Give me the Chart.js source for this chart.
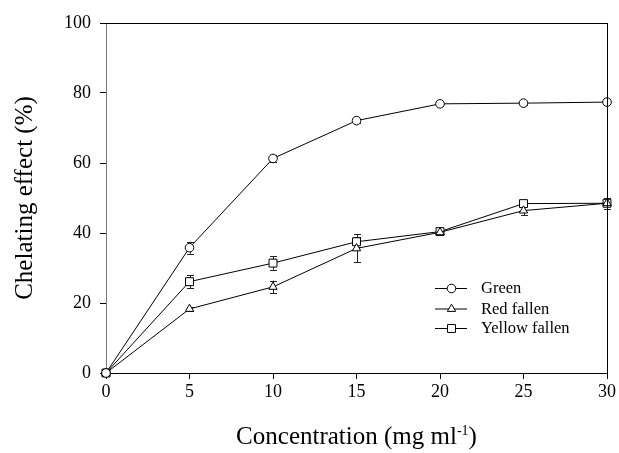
<!DOCTYPE html>
<html>
<head>
<meta charset="utf-8">
<script src="https://cdn.jsdelivr.net/npm/chart.js@4/dist/chart.umd.min.js"></script>
<style>
html,body{margin:0;padding:0;background:#fff;}
#wrap{width:619px;height:453px;position:relative;}
</style>
</head>
<body>
<div id="wrap"><canvas id="c" width="619" height="453"></canvas></div>
<script>
const concentrations = [0, 5, 10, 15, 20, 25, 30];
const green = [0, 35.8, 61.3, 72.1, 76.9, 77.1, 77.4];
const redFallen = [0, 18.3, 24.6, 35.6, 40.2, 46.4, 48.5];
const yellowFallen = [0, 26.1, 31.4, 37.5, 40.4, 48.4, 48.5];
const greenErr = [0, 1.7, 1.1, 0.6, 0.5, 0.5, 0.6];
const redErr = [0, 0.7, 1.8, 4.0, 0.5, 1.3, 1.5];
const yellowErr = [0, 1.9, 1.9, 1.4, 0.6, 0.8, 1.5];
const seriesLabels = ['Green', 'Red fallen', 'Yellow fallen'];
const xTicks = [0, 5, 10, 15, 20, 25, 30];
const yTicks = [0, 20, 40, 60, 80, 100];
const yTitle = 'Chelating effect (%)';
const xTitleMain = 'Concentration (mg ml';
const xTitleSup = '-1';
const xTitleEnd = ')';

const FONT = '"Liberation Serif", "Times New Roman", serif';

function pts(vals) { return concentrations.map((x, i) => ({x: x, y: vals[i]})); }

const errs = [greenErr, redErr, yellowErr];
const styles = ['circle', 'triangle', 'rect'];
const radii = [4.3, 4.8, 5.6];

const errorBars = {
  id: 'errorBars',
  beforeDatasetsDraw(chart) {
    const ctx = chart.ctx, xs = chart.scales.x, ys = chart.scales.y;
    ctx.save();
    ctx.strokeStyle = '#222';
    ctx.lineWidth = 1;
    chart.data.datasets.forEach((ds, di) => {
      ds.data.forEach((p, i) => {
        const e = errs[di][i];
        if (!e) return;
        const px = Math.round(xs.getPixelForValue(p.x)) + 0.5;
        const top = ys.getPixelForValue(p.y + e);
        const bot = ys.getPixelForValue(p.y - e);
        ctx.beginPath();
        ctx.moveTo(px, top); ctx.lineTo(px, bot);
        ctx.moveTo(px - 3.5, Math.round(top) + 0.5); ctx.lineTo(px + 3.5, Math.round(top) + 0.5);
        ctx.moveTo(px - 3.5, Math.round(bot) + 0.5); ctx.lineTo(px + 3.5, Math.round(bot) + 0.5);
        ctx.stroke();
      });
    });
    ctx.restore();
  }
};

const frame = {
  id: 'frame',
  afterDraw(chart) {
    const ctx = chart.ctx, a = chart.chartArea;
    ctx.save();
    ctx.strokeStyle = '#000';
    ctx.lineWidth = 1;
    ctx.beginPath();
    ctx.moveTo(a.left, a.top + 0.5); ctx.lineTo(a.right + 0.5, a.top + 0.5);
    ctx.moveTo(a.right + 0.5, a.top); ctx.lineTo(a.right + 0.5, a.bottom);
    ctx.stroke();
    // x title with superscript
    const cx = (a.left + a.right) / 2;
    const y = 444;
    ctx.fillStyle = '#000';
    ctx.textBaseline = 'alphabetic';
    ctx.font = '25px ' + FONT;
    const w1 = ctx.measureText(xTitleMain).width;
    const w3 = ctx.measureText(xTitleEnd).width;
    ctx.font = '14px ' + FONT;
    const w2 = ctx.measureText(xTitleSup).width;
    let x = cx - (w1 + w2 + w3) / 2;
    ctx.textAlign = 'left';
    ctx.font = '25px ' + FONT;
    ctx.fillText(xTitleMain, x, y);
    x += w1;
    ctx.font = '14px ' + FONT;
    ctx.fillText(xTitleSup, x, y - 9);
    x += w2;
    ctx.font = '25px ' + FONT;
    ctx.fillText(xTitleEnd, x, y);
    // legend
    const lx1 = 435, lx2 = 467, mx = 451.5, tx = 481;
    const rows = [288, 308.5, 328];
    ctx.font = '16.5px ' + FONT;
    ctx.textBaseline = 'middle';
    seriesLabels.forEach((lab, i) => {
      const ry = rows[i];
      ctx.strokeStyle = '#000';
      ctx.lineWidth = 1;
      ctx.beginPath();
      ctx.moveTo(lx1, ry + 0.5); ctx.lineTo(lx2, ry + 0.5);
      ctx.stroke();
      ctx.fillStyle = '#fff';
      Chart.helpers.drawPoint(ctx, {pointStyle: styles[i], radius: radii[i], borderWidth: 1}, mx, ry + 0.5);
      ctx.fillStyle = '#000';
      ctx.fillText(lab, tx, ry + 1);
    });
    ctx.restore();
  }
};

function mk(label, vals, i) {
  return {
    label: label,
    data: pts(vals),
    borderColor: '#000',
    borderWidth: 1,
    backgroundColor: '#fff',
    pointStyle: styles[i],
    pointRadius: radii[i],
    pointHoverRadius: radii[i],
    pointBackgroundColor: '#fff',
    pointBorderColor: '#000',
    pointBorderWidth: 1,
    tension: 0,
    fill: false,
    clip: false
  };
}

new Chart(document.getElementById('c'), {
  type: 'line',
  data: {
    datasets: [mk(seriesLabels[0], green, 0), mk(seriesLabels[1], redFallen, 1), mk(seriesLabels[2], yellowFallen, 2)]
  },
  options: {
    responsive: false,
    animation: false,
    devicePixelRatio: 1,
    layout: {padding: {top: 23, right: 12, left: 0, bottom: 0}},
    plugins: {legend: {display: false}, tooltip: {enabled: false}},
    scales: {
      x: {
        type: 'linear', min: 0, max: 30,
        afterBuildTicks(s) { s.ticks = xTicks.map(v => ({value: v})); },
        afterFit(s) { s.height = 80; },
        ticks: {color: '#000', font: {family: FONT, size: 18}, padding: 2, maxRotation: 0},
        grid: {drawOnChartArea: false, drawTicks: true, tickLength: 6, color: '#000'},
        border: {color: '#000', width: 1},
        title: {display: false}
      },
      y: {
        min: 0, max: 100,
        afterBuildTicks(s) { s.ticks = yTicks.map(v => ({value: v})); },
        afterFit(s) { s.width = 106; },
        ticks: {color: '#000', font: {family: FONT, size: 18}, padding: 9},
        grid: {drawOnChartArea: false, drawTicks: true, tickLength: 6, color: '#000'},
        border: {color: '#777', width: 1},
        title: {display: true, text: yTitle, color: '#000', font: {family: FONT, size: 25}, padding: {top: 10, bottom: 0}}
      }
    }
  },
  plugins: [errorBars, frame]
});
</script>
</body>
</html>
